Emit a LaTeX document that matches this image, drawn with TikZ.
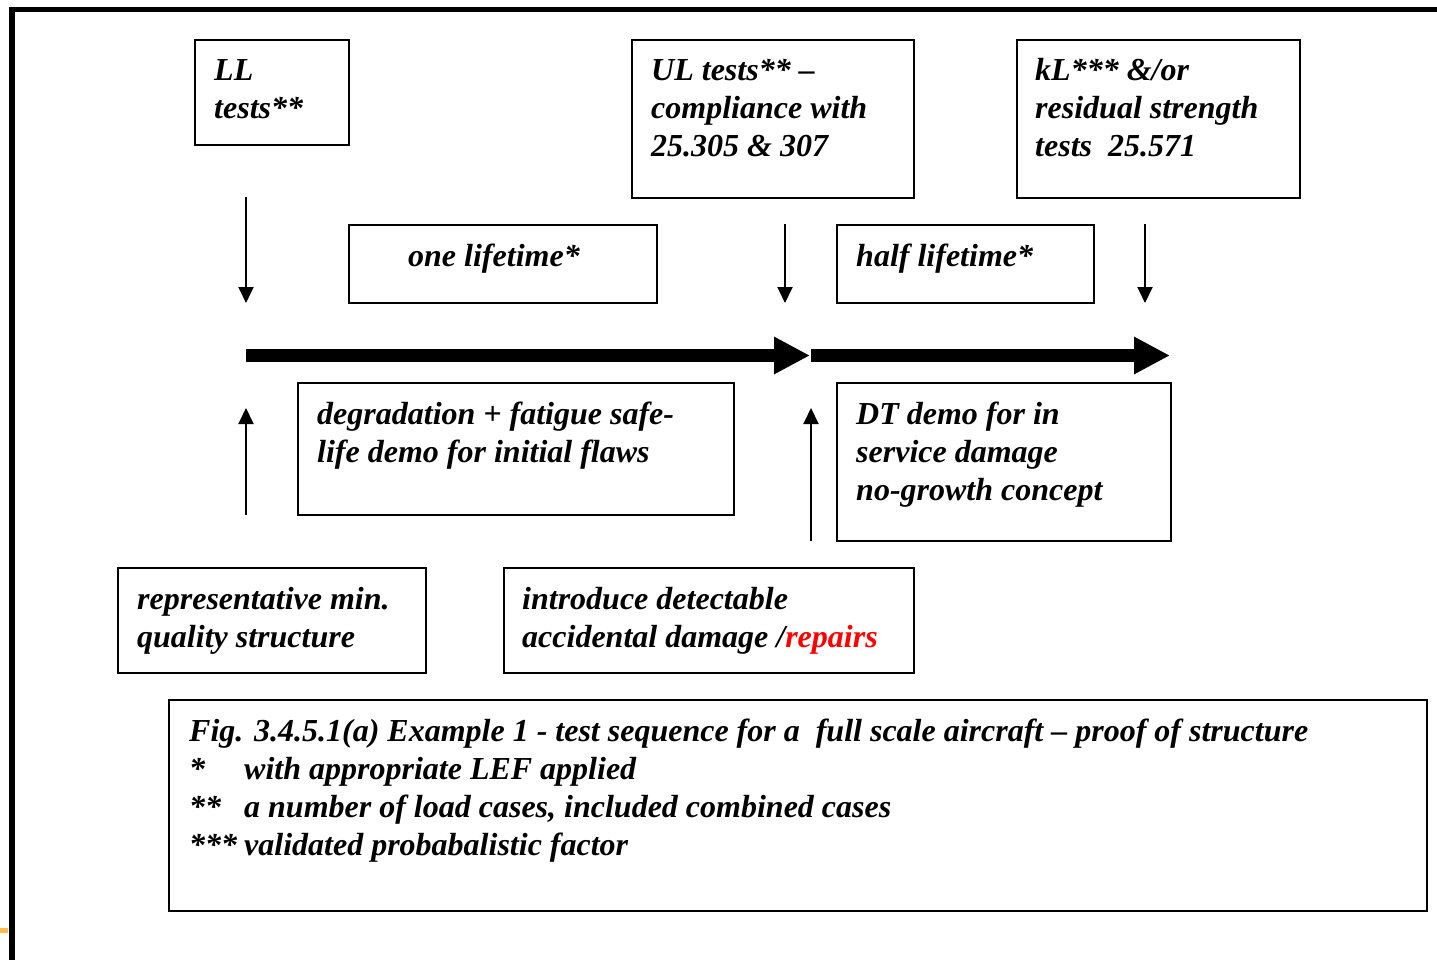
\documentclass[tikz,border=0pt]{standalone}
\usepackage{fontspec}
\setmainfont{Liberation Serif}
\usetikzlibrary{arrows.meta}
\definecolor{markorange}{RGB}{255,188,72}
\tikzset{
  box/.style={draw=black, line width=2pt, anchor=north west, inner sep=0pt},
  txt/.style={font=\fontsize{32}{38}\selectfont\bfseries\itshape, align=left, inner sep=0pt, anchor=base west},
  thin arrow/.style={line width=2pt, -{Triangle[length=16pt,width=15pt]}},
  thick arrow/.style={line width=13pt, -{Triangle[length=36pt,width=35pt]}},
}
\newcommand{\capstar}[1]{\makebox[55pt][l]{#1}}
\begin{document}
\begin{tikzpicture}[x=1pt,y=-1pt]
\useasboundingbox (0,0) rectangle (1437,960);
% frame
\draw[line width=5.5pt, line join=miter] (1437,9.5) -- (12,9.5) -- (12,960);
\fill[markorange] (0,928) rectangle (8,933);
% boxes
\node[box, minimum width=154pt, minimum height=105pt] (ll) at (194,39) {};
\node[box, minimum width=282pt, minimum height=158pt] (ul) at (631,39) {};
\node[box, minimum width=283pt, minimum height=158pt] (kl) at (1016,39) {};
\node[box, minimum width=308pt, minimum height=78pt] (one) at (348,224) {};
\node[box, minimum width=257pt, minimum height=78pt] (half) at (836,224) {};
\node[box, minimum width=436pt, minimum height=132pt] (deg) at (297,382) {};
\node[box, minimum width=334pt, minimum height=158pt] (dt) at (836,382) {};
\node[box, minimum width=308pt, minimum height=105pt] (rep) at (117,567) {};
\node[box, minimum width=410pt, minimum height=105pt] (intro) at (503,567) {};
\node[box, minimum width=1258pt, minimum height=211pt] (cap) at (168,699) {};
% texts (anchor = baseline of the last line)
\node[txt] (lltxt) at ([shift={(20,80)}]ll.north west) {LL\\tests**};
\node[txt] (ultxt) at ([shift={(20,118)}]ul.north west) {UL tests** –\\compliance with\\25.305 \& 307};
\node[txt] (kltxt) at ([shift={(19,118)}]kl.north west) {kL*** \&/or\\residual strength\\tests\ \ 25.571};
\node[txt] (onetxt) at ([shift={(60,42)}]one.north west) {one lifetime*};
\node[txt] (halftxt) at ([shift={(20,42)}]half.north west) {half lifetime*};
\node[txt] (degtxt) at ([shift={(20,80)}]deg.north west) {degradation + fatigue safe-\\life demo for initial flaws};
\node[txt] (dttxt) at ([shift={(20,118)}]dt.north west) {DT demo for in\\service damage\\no-growth concept};
\node[txt] (reptxt) at ([shift={(20,80)}]rep.north west) {representative min.\\quality structure};
\node[txt] (introtxt) at ([shift={(19,80)}]intro.north west) {introduce detectable\\accidental damage /\textcolor{red}{repairs}};
\node[txt] (captxt) at ([shift={(21,156)}]cap.north west) {Fig. 3.4.5.1(a) Example 1 - test sequence for a\ \ full scale aircraft – proof of structure\\\capstar{*}with appropriate LEF applied\\\capstar{**}a number of load cases, included combined cases\\\capstar{***}validated probabalistic factor};
% connector coordinates
\coordinate (a1s) at (246,197); \coordinate (a1e) at (246,303);
\coordinate (a2s) at (785,224); \coordinate (a2e) at (785,303);
\coordinate (a3s) at (1145,224); \coordinate (a3e) at (1145,303);
\coordinate (u1s) at (246,515); \coordinate (u1e) at (246,408);
\coordinate (u2s) at (811,541); \coordinate (u2e) at (811,408);
\coordinate (t0) at (246,355.5); \coordinate (t1) at (810,355.5);
\coordinate (t1b) at (811,355.5); \coordinate (t2) at (1170,355.5);
% arrows
\draw[thin arrow] (a1s) -- (a1e);
\draw[thin arrow] (a2s) -- (a2e);
\draw[thin arrow] (a3s) -- (a3e);
\draw[thin arrow] (u1s) -- (u1e);
\draw[thin arrow] (u2s) -- (u2e);
\draw[thick arrow] (t0) -- (t1);
\draw[thick arrow] (t1b) -- (t2);
\end{tikzpicture}
\end{document}
